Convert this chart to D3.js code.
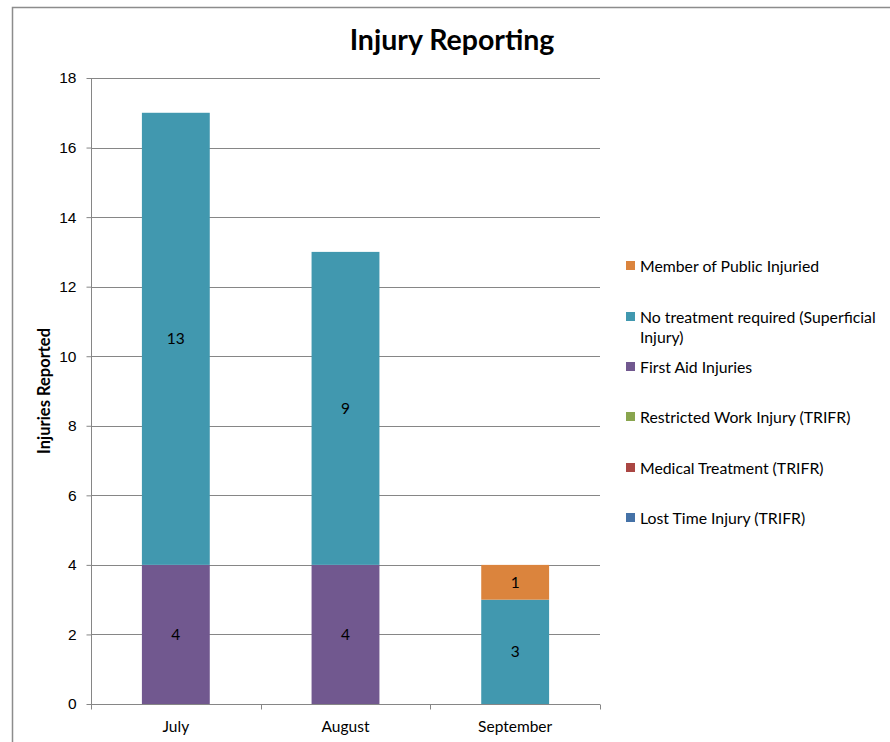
<!DOCTYPE html>
<html>
<head>
<meta charset="utf-8">
<script src="https://cdn.jsdelivr.net/npm/d3@7"></script>
<style>
  html, body { margin: 0; padding: 0; background: #fff; }
  svg { display: block; font-family: Lato, "Open Sans", sans-serif; }
</style>
</head>
<body>
<svg id="chart" width="890" height="742"></svg>
<script>
// Monthly injury counts by classification
const months = ["July", "August", "September"];
const seriesNames = [
  "Lost Time Injury (TRIFR)",
  "Medical Treatment (TRIFR)",
  "Restricted Work Injury (TRIFR)",
  "First Aid Injuries",
  "No treatment required (Superficial Injury)",
  "Member of Public Injuried"
];
const lostTime = [0, 0, 0];
const medical = [0, 0, 0];
const restricted = [0, 0, 0];
const firstAid = [4, 4, 0];
const noTreatment = [13, 9, 3];
const publicInjured = [0, 0, 1];
const yTicks = [0, 2, 4, 6, 8, 10, 12, 14, 16, 18];
const colors = ["#4572A7", "#AA4643", "#89A54E", "#71588F", "#4198AF", "#DB843D"];

const valuesBySeries = [lostTime, medical, restricted, firstAid, noTreatment, publicInjured];
const rows = months.map((m, i) => {
  const r = { month: m };
  seriesNames.forEach((s, j) => r[s] = valuesBySeries[j][i]);
  return r;
});
const stacked = d3.stack().keys(seriesNames)(rows);

const svg = d3.select("#chart");
const labelSize = 15.5;

// outer chart frame
svg.append("rect")
  .attr("x", 12.5).attr("y", 7.5)
  .attr("width", 900).attr("height", 800)
  .attr("fill", "none").attr("stroke", "#8c8c8c").attr("stroke-width", 1.5);

const plot = { left: 91, right: 600, top: 78, bottom: 704 };

const x = d3.scaleBand().domain(months).range([plot.left, plot.right]).paddingInner(0.6).paddingOuter(0.3);
const xOuter = d3.scaleBand().domain(months).range([plot.left, plot.right]);
const y = d3.scaleLinear().domain([0, 18]).range([plot.bottom, plot.top]);

// horizontal gridlines
svg.append("g").selectAll("line").data(yTicks.filter(t => t > 0)).join("line")
  .attr("x1", plot.left).attr("x2", plot.right)
  .attr("y1", d => Math.round(y(d)) + 0.5).attr("y2", d => Math.round(y(d)) + 0.5)
  .attr("stroke", "#868686").attr("stroke-width", 1);

// y axis
const yAxis = svg.append("g")
  .attr("transform", `translate(${plot.left + 0.5},0)`)
  .call(d3.axisLeft(y).tickValues(yTicks).tickSize(5).tickPadding(10).tickFormat(d3.format("d")));
yAxis.select(".domain").attr("stroke", "#868686").attr("d", `M0,${plot.top}V${plot.bottom}`);
yAxis.selectAll(".tick line").attr("stroke", "#868686");
yAxis.selectAll(".tick text").attr("font-size", labelSize).attr("fill", "#000");

// stacked bars
const layers = svg.append("g").selectAll("g").data(stacked).join("g")
  .attr("fill", (d, i) => colors[i]);
layers.selectAll("rect").data(d => d.map(p => ({ p, month: p.data.month }))).join("rect")
  .attr("x", d => x(d.month))
  .attr("width", x.bandwidth())
  .attr("y", d => y(d.p[1]))
  .attr("height", d => y(d.p[0]) - y(d.p[1]));

// value labels inside segments
stacked.forEach(layer => {
  layer.forEach(p => {
    const v = p[1] - p[0];
    if (v > 0) {
      svg.append("text")
        .attr("x", x(p.data.month) + x.bandwidth() / 2)
        .attr("y", y((p[0] + p[1]) / 2))
        .attr("dy", "0.35em")
        .attr("text-anchor", "middle")
        .attr("font-size", labelSize).attr("fill", "#000")
        .text(v);
    }
  });
});

// x axis
const xAxisG = svg.append("g").attr("transform", `translate(0,${plot.bottom + 0.5})`);
xAxisG.append("line").attr("x1", plot.left).attr("x2", plot.right).attr("stroke", "#868686");
const boundaries = months.map(m => xOuter(m)).concat([plot.right]);
xAxisG.selectAll("line.tk").data(boundaries).join("line").attr("class", "tk")
  .attr("x1", d => Math.round(d) + 0.5).attr("x2", d => Math.round(d) + 0.5)
  .attr("y1", 0).attr("y2", 5).attr("stroke", "#868686");
xAxisG.selectAll("text").data(months).join("text")
  .attr("x", d => xOuter(d) + xOuter.bandwidth() / 2)
  .attr("y", 27)
  .attr("text-anchor", "middle")
  .attr("font-size", labelSize).attr("fill", "#000")
  .text(d => d);

// title
svg.append("text")
  .attr("x", 452).attr("y", 50)
  .attr("text-anchor", "middle")
  .attr("font-size", 28.5).attr("font-weight", "bold").attr("fill", "#000")
  .text("Injury Reporting");

// y axis title
svg.append("text")
  .attr("transform", `translate(50,${(plot.top + plot.bottom) / 2}) rotate(-90)`)
  .attr("text-anchor", "middle")
  .attr("font-size", 16.5).attr("font-weight", "bold").attr("fill", "#000")
  .text("Injuries Reported");

// legend (top of stack listed first)
const legendItems = seriesNames.map((s, i) => ({ name: s, color: colors[i] })).reverse();
const legendY = [266, 317, 367, 417, 468, 518];
const legend = svg.append("g");
legendItems.forEach((item, i) => {
  const g = legend.append("g").attr("transform", `translate(626,${legendY[i]})`);
  g.append("rect").attr("x", 0).attr("y", -5).attr("width", 9).attr("height", 9).attr("fill", item.color);
  const lines = item.name === "No treatment required (Superficial Injury)"
    ? ["No treatment required (Superficial", "Injury)"] : [item.name];
  lines.forEach((ln, k) => {
    g.append("text").attr("x", 14).attr("y", k * 20).attr("dy", "0.35em")
      .attr("font-size", 15.8).attr("fill", "#000").text(ln);
  });
});
</script>
</body>
</html>
